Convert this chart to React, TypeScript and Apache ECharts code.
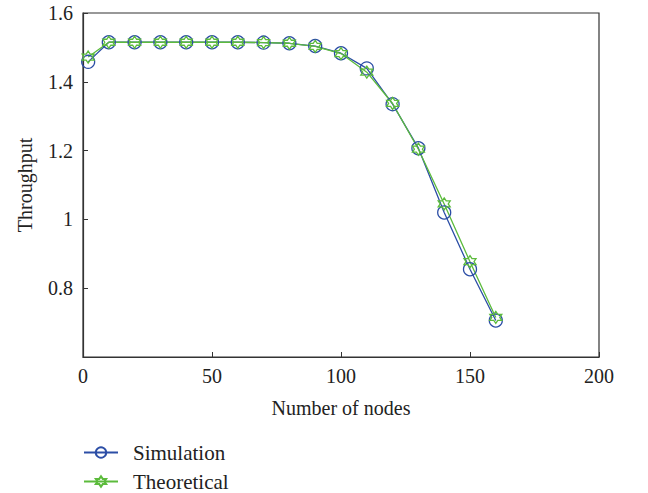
import React, { useEffect, useRef } from "react";
import * as echarts from "echarts";

const nodes = [2, 10, 20, 30, 40, 50, 60, 70, 80, 90, 100, 110, 120, 130, 140, 150, 160];
const simulation = [1.458, 1.515, 1.515, 1.515, 1.515, 1.515, 1.515, 1.514, 1.512, 1.504, 1.483, 1.439, 1.335, 1.207, 1.02, 0.855, 0.706];
const theoretical = [1.472, 1.515, 1.515, 1.515, 1.515, 1.515, 1.515, 1.514, 1.512, 1.503, 1.482, 1.428, 1.337, 1.204, 1.045, 0.877, 0.715];

const xTicks = { min: 0, max: 200, interval: 50 };
const yTicks = { min: 0.6, max: 1.6, interval: 0.2 };

const BLUE = "#2c4ea6";
const GREEN = "#5cbb3c";
const FONT = "Liberation Serif";
const HEX = "path://M50 0 L64.43 25 L93.3 25 L78.87 50 L93.3 75 L64.43 75 L50 100 L35.57 75 L6.7 75 L21.13 50 L6.7 25 L35.57 25 Z";

const txt = { fontFamily: FONT, fontSize: 20, color: "#222" };

export default function App() {
  const ref = useRef<HTMLDivElement>(null);
  useEffect(() => {
    const chart = echarts.init(ref.current!, undefined, { renderer: "svg" });
    chart.setOption({
      animation: false,
      textStyle: { fontFamily: FONT },
      grid: { left: 83, right: 49, top: 13, bottom: 136, show: true, borderColor: "#333", borderWidth: 1.2, backgroundColor: "transparent" },
      legend: {
        orient: "vertical",
        left: 83,
        top: 442,
        padding: 0,
        itemWidth: 34,
        itemHeight: 13,
        itemGap: 8,
        textStyle: { ...txt, fontSize: 21, padding: [0, 0, 0, 10] },
        data: ["Simulation", "Theoretical"],
      },
      xAxis: {
        type: "value",
        ...xTicks,
        name: "Number of nodes",
        nameLocation: "middle",
        nameGap: 41,
        nameTextStyle: txt,
        axisLine: { show: true, lineStyle: { color: "#333", width: 1.2 } },
        axisTick: { show: true, inside: true, length: 5, lineStyle: { color: "#333" } },
        axisLabel: { ...txt, margin: 9 },
        splitLine: { show: false },
      },
      yAxis: {
        type: "value",
        ...yTicks,
        name: "Throughput",
        nameLocation: "middle",
        nameGap: 48,
        nameTextStyle: txt,
        axisLine: { show: true, lineStyle: { color: "#333", width: 1.2 } },
        axisTick: { show: true, inside: true, length: 5, lineStyle: { color: "#333" } },
        axisLabel: { ...txt, margin: 10, showMinLabel: false },
        splitLine: { show: false },
      },
      series: [
        {
          name: "Simulation",
          type: "line",
          data: nodes.map((x, i) => [x, simulation[i]]),
          symbol: "circle",
          symbolSize: 13,
          itemStyle: { color: "transparent", borderColor: BLUE, borderWidth: 1.3 },
          lineStyle: { color: BLUE, width: 1.3 },
        },
        {
          name: "Theoretical",
          type: "line",
          data: nodes.map((x, i) => [x, theoretical[i]]),
          symbol: HEX,
          symbolSize: 12,
          itemStyle: { color: "transparent", borderColor: GREEN, borderWidth: 1.3 },
          lineStyle: { color: GREEN, width: 1.3 },
        },
      ],
    });
    return () => chart.dispose();
  }, []);
  return <div ref={ref} style={{ width: 648, height: 493, position: "absolute", left: 0, top: 0 }} />;
}
